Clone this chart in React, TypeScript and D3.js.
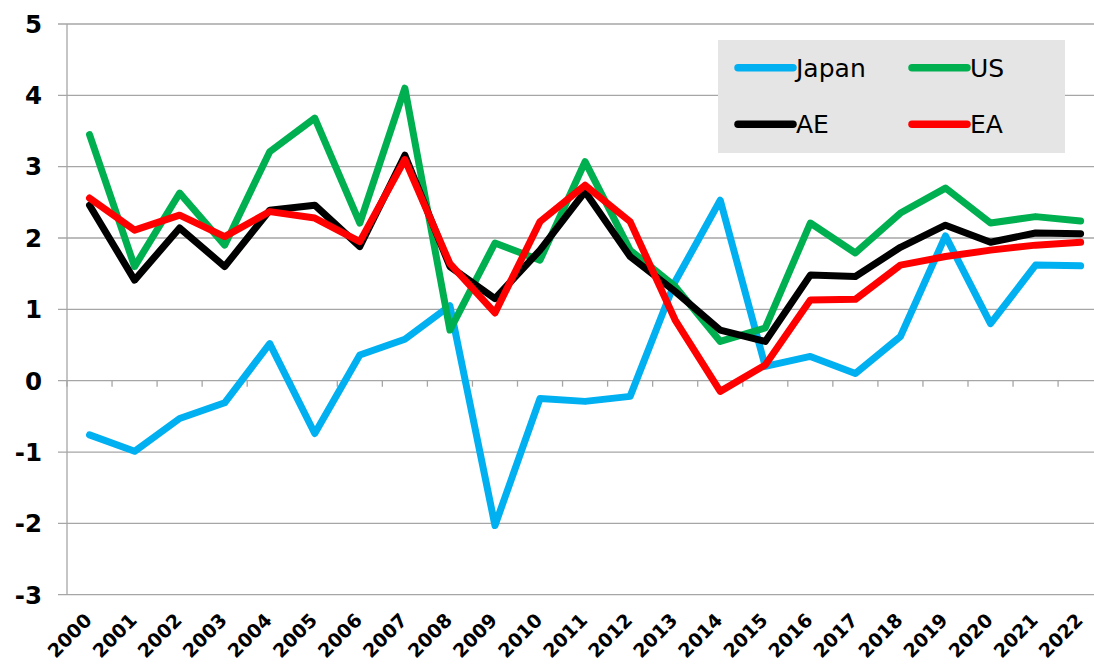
import React from "react";
import * as d3 from "d3";

const years = ["2000","2001","2002","2003","2004","2005","2006","2007","2008","2009","2010","2011","2012","2013","2014","2015","2016","2017","2018","2019","2020","2021","2022"];
const japan = [-0.76,-0.99,-0.53,-0.31,0.52,-0.74,0.36,0.58,1.05,-2.03,-0.25,-0.29,-0.22,1.39,2.53,0.2,0.34,0.1,0.62,2.03,0.8,1.62,1.61];
const us = [3.45,1.6,2.63,1.9,3.21,3.68,2.21,4.1,0.71,1.93,1.69,3.07,1.83,1.32,0.55,0.74,2.21,1.79,2.35,2.7,2.21,2.3,2.24];
const ae = [2.46,1.41,2.14,1.6,2.39,2.46,1.88,3.16,1.6,1.15,1.83,2.65,1.74,1.25,0.71,0.55,1.48,1.46,1.87,2.18,1.94,2.07,2.06];
const ea = [2.56,2.11,2.32,2.02,2.37,2.28,1.95,3.1,1.64,0.95,2.23,2.74,2.23,0.85,-0.15,0.22,1.13,1.14,1.62,1.74,1.83,1.9,1.94];
const yTicks = [-3,-2,-1,0,1,2,3,4,5];

const series = [
  { name: "Japan", values: japan, color: "#00B0F0" },
  { name: "US", values: us, color: "#00B050" },
  { name: "AE", values: ae, color: "#000000" },
  { name: "EA", values: ea, color: "#FF0000" },
];

const legendItems = [
  { name: "Japan", color: "#00B0F0", col: 0, row: 0 },
  { name: "US", color: "#00B050", col: 1, row: 0 },
  { name: "AE", color: "#000000", col: 0, row: 1 },
  { name: "EA", color: "#FF0000", col: 1, row: 1 },
];

export default function App() {
  const W = 1094, H = 664;
  const left = 67;
  const step = 45.05;
  const x = d3.scaleBand<string>().domain(years).range([left, left + step * years.length]).padding(0);
  const y = d3.scaleLinear().domain([-3, 5]).range([594.7, 24]);
  const cx = (i: number) => (x(years[i]) as number) + x.bandwidth() / 2;
  const line = d3.line<number>().x((_, i) => cx(i)).y((d) => y(d));
  const grid = "#a6a6a6";
  const font = "'DejaVu Sans', Verdana, sans-serif";
  const y0 = y(0);

  return (
    <svg width={W} height={H} style={{ position: "absolute", left: 0, top: 0, background: "#fff" }}>
      {yTicks.map((t) => (
        <g key={t}>
          <line x1={58} x2={W} y1={y(t)} y2={y(t)} stroke={grid} strokeWidth={1.3} />
          <text x={42} y={y(t)} dy="0.36em" textAnchor="end" fontFamily={font} fontWeight="bold" fontSize={24.5} fill="#000">{t}</text>
        </g>
      ))}
      <line x1={left} x2={left} y1={y(5)} y2={y(-3)} stroke={grid} strokeWidth={1.3} />
      {years.map((yr) => (
        <line key={"t" + yr} x1={x(yr) as number} x2={x(yr) as number} y1={y0} y2={y0 + 6} stroke={grid} strokeWidth={1.3} />
      ))}
      {years.map((yr, i) => (
        <text key={"l" + yr} transform={`translate(${cx(i) + 3.5},${621.5}) rotate(-45)`} textAnchor="end" fontFamily={font} fontWeight="bold" fontSize={19} fill="#000">{yr}</text>
      ))}
      <rect x={718} y={40} width={347} height={113} fill="#e5e5e5" />
      {legendItems.map((it) => {
        const lx = 738 + it.col * 174;
        const ly = 67.7 + it.row * 56.6;
        return (
          <g key={it.name}>
            <line x1={lx} x2={lx + 55} y1={ly} y2={ly} stroke={it.color} strokeWidth={7.5} strokeLinecap="round" />
            <text x={lx + 58} y={ly} dy="0.36em" fontFamily={font} fontSize={25} fill="#000">{it.name}</text>
          </g>
        );
      })}
      {series.map((s) => (
        <path key={s.name} d={line(s.values) as string} fill="none" stroke={s.color} strokeWidth={7} strokeLinejoin="round" strokeLinecap="round" />
      ))}
    </svg>
  );
}
